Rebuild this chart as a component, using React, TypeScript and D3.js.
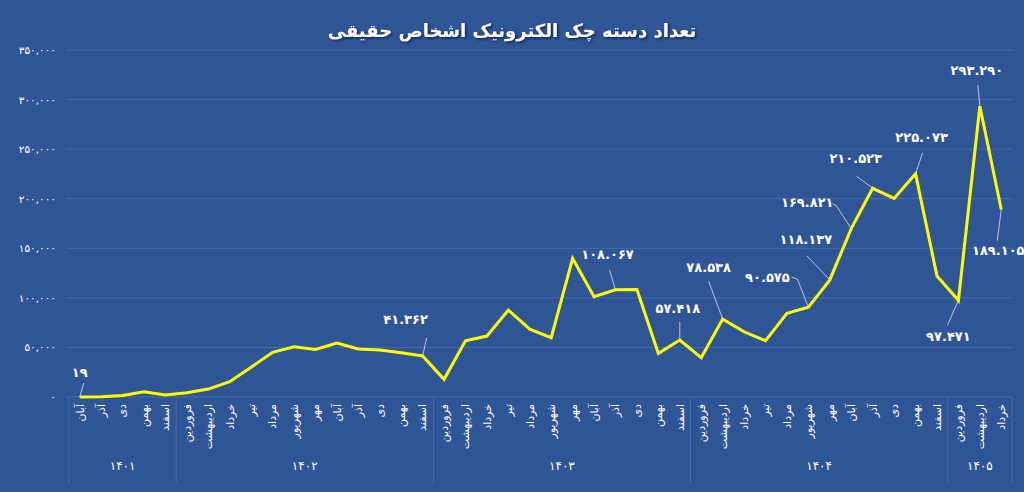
import * as d3 from "d3";

// month labels (Persian calendar), one per data point
const MONTHS = [
  "آبان", "آذر", "دی", "بهمن", "اسفند",
  "فروردین", "اردیبهشت", "خرداد", "تیر", "مرداد", "شهریور", "مهر", "آبان", "آذر", "دی", "بهمن", "اسفند",
  "فروردین", "اردیبهشت", "خرداد", "تیر", "مرداد", "شهریور", "مهر", "آبان", "آذر", "دی", "بهمن", "اسفند",
  "فروردین", "اردیبهشت", "خرداد", "تیر", "مرداد", "شهریور", "مهر", "آبان", "آذر", "دی", "بهمن", "اسفند",
  "فروردین", "اردیبهشت", "خرداد",
];

// year groups: label and number of months in each
const YEARS = ["۱۴۰۱", "۱۴۰۲", "۱۴۰۳", "۱۴۰۴", "۱۴۰۵"];
const YEAR_COUNTS = [5, 12, 12, 12, 3];

// number of electronic cheque books (individuals)
const VALUES = [
  19, 300, 1500, 5300, 2000,
  4300, 8000, 15400, 30000, 45000, 50700, 48000, 54400, 48400, 47400, 44700, 41362,
  17800, 56700, 61500, 87700, 68500, 59800, 139800, 101100, 108067, 108300, 44000, 57418,
  39600, 78538, 65800, 56800, 84400, 90575, 118137, 169821, 210523, 200300, 225073, 122000,
  97471, 293290, 189105,
];

const Y_TICKS = [0, 50000, 100000, 150000, 200000, 250000, 300000, 350000];

// annotated points and where their labels sit relative to the point
const LABELLED = [0, 16, 25, 28, 30, 34, 35, 36, 37, 39, 41, 42, 43];
const LABEL_OFFSETS: Record<number, { dx: number; dy: number; leader: [number, number][] }> = {
  0: { dx: 0, dy: -24, leader: [[4, -14]] },
  16: { dx: -17, dy: -36, leader: [[4, -18]] },
  25: { dx: -8, dy: -35, leader: [[-6, -20]] },
  28: { dx: -2, dy: -32, leader: [[0, -18]] },
  30: { dx: -14, dy: -52, leader: [[-14, -38]] },
  34: { dx: -41, dy: -30, leader: [[-11, -28], [-17, -30]] },
  35: { dx: -24, dy: -40, leader: [[-23, -24]] },
  36: { dx: -44, dy: -26, leader: [[-15, -23], [-19, -25]] },
  37: { dx: -17, dy: -30, leader: [[-16, -12]] },
  39: { dx: 6, dy: -36, leader: [[7, -21]] },
  41: { dx: -10, dy: 36, leader: [[-11, 25]] },
  42: { dx: -3, dy: -36, leader: [[-2, -21]] },
  43: { dx: -3, dy: 41, leader: [[-4, 31]] },
};

const W = 1024;
const H = 492;
const BG = "#2F5597";
const FONT = "'DejaVu Sans', 'Noto Sans', sans-serif";

const toFa = (s: string) => s.replace(/\d/g, (c) => "۰۱۲۳۴۵۶۷۸۹"[+c]);
const fmtLabel = (v: number) => toFa(d3.format(",")(v).replace(/,/g, "."));
const fmtTick = (v: number) => toFa(d3.format(",")(v));

export default function App() {
  const x = d3
    .scalePoint<number>()
    .domain(d3.range(VALUES.length))
    .range([69, 1012])
    .padding(0.5);
  const step = x.step();
  const y = d3.scaleLinear().domain([0, 350000]).range([397, 50]);

  const line = d3
    .line<number>()
    .x((_, i) => x(i)!)
    .y((d) => y(d));

  // group boundaries
  const bounds: number[] = [0];
  YEAR_COUNTS.forEach((c, i) => bounds.push(bounds[i] + c));

  return (
    <div style={{ position: "fixed", left: 0, top: 0 }}>
      <svg width={W} height={H} style={{ display: "block", fontFamily: FONT }}>
        <defs>
          <filter id="sh" x="-10%" y="-30%" width="120%" height="160%">
            <feDropShadow dx="1.5" dy="1.5" stdDeviation="1.2" floodColor="#0b1d40" floodOpacity="0.8" />
          </filter>
        </defs>
        <rect width={W} height={H} fill={BG} />

        {/* title */}
        <text
          x={512}
          y={30}
          textAnchor="middle"
          dominantBaseline="central"
          fill="#fff"
          fontSize={18}
          fontWeight="bold"
          filter="url(#sh)"
        >
          تعداد دسته چک الکترونیک اشخاص حقیقی
        </text>

        {/* gridlines + y ticks */}
        {Y_TICKS.map((t) => (
          <g key={t}>
            <line x1={66} x2={1012} y1={y(t)} y2={y(t)} stroke="#ffffff" strokeOpacity={0.13} />
            <text
              x={56}
              y={y(t)}
              textAnchor="end"
              dominantBaseline="central"
              fill="#fff"
              fontSize={10.5}
            >
              {fmtTick(t)}
            </text>
          </g>
        ))}

        {/* category separators */}
        {bounds.map((b, i) => {
          const bx = 69 + b * step;
          return (
            <line key={i} x1={bx} x2={bx} y1={398} y2={483} stroke="#ffffff" strokeOpacity={0.13} />
          );
        })}

        {/* month labels */}
        {MONTHS.map((m, i) => (
          <text
            key={i}
            transform={`translate(${x(i)},404) rotate(-90)`}
            textAnchor="end"
            dy="0.35em"
            fill="#fff"
            fontSize={11}
          >
            {m}
          </text>
        ))}

        {/* year labels */}
        {YEARS.map((yr, i) => {
          const cx = 69 + ((bounds[i] + bounds[i + 1]) / 2) * step;
          return (
            <text key={yr} x={cx} y={466} textAnchor="middle" dominantBaseline="central" fill="#fff" fontSize={12}>
              {yr}
            </text>
          );
        })}

        {/* leader lines */}
        {LABELLED.map((i) => {
          const o = LABEL_OFFSETS[i];
          const px = x(i)!;
          const py = y(VALUES[i]);
          const pts: [number, number][] = [[px, py], ...o.leader.map(([a, b]) => [px + a, py + b] as [number, number])];
          return (
            <polyline
              key={`l${i}`}
              points={pts.map((p) => p.join(",")).join(" ")}
              fill="none"
              stroke="#c9d3e6"
              strokeWidth={0.9}
            />
          );
        })}

        {/* series line */}
        <path d={line(VALUES)!} fill="none" stroke="#FFFF00" strokeWidth={3} strokeLinejoin="miter" />

        {/* data labels */}
        {LABELLED.map((i) => {
          const o = LABEL_OFFSETS[i];
          return (
            <text
              key={`t${i}`}
              x={x(i)! + o.dx}
              y={y(VALUES[i]) + o.dy}
              textAnchor="middle"
              dominantBaseline="central"
              fill="#fff"
              fontSize={13}
              fontWeight="bold"
            >
              {fmtLabel(VALUES[i])}
            </text>
          );
        })}
      </svg>
    </div>
  );
}
